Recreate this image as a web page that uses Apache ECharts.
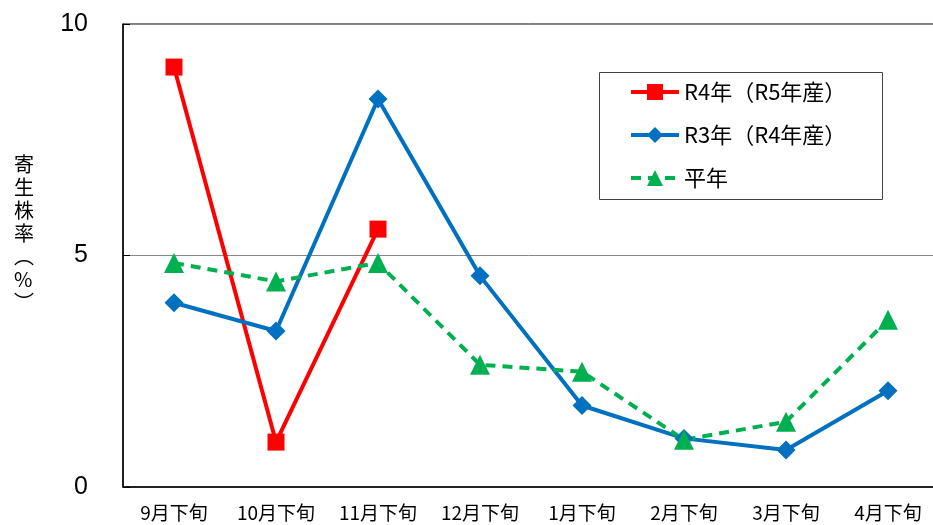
<!DOCTYPE html>
<html>
<head>
<meta charset="utf-8">
<script src="https://cdn.jsdelivr.net/npm/echarts@6/dist/echarts.min.js"></script>
<style>
html,body{margin:0;padding:0;background:#fff;}
#c{width:933px;height:525px;}
</style>
</head>
<body>
<div id="c"></div>
<script>
const categories = ['9月下旬','10月下旬','11月下旬','12月下旬','1月下旬','2月下旬','3月下旬','4月下旬'];
const seriesNames = ['R4年（R5年産）','R3年（R4年産）','平年'];
const r4Values = [9.07, 0.97, 5.57, null, null, null, null, null];
const r3Values = [3.98, 3.37, 8.38, 4.56, 1.76, 1.05, 0.80, 2.08];
const avgValues = [4.84, 4.44, 4.84, 2.64, 2.49, 1.02, 1.41, 3.61];
const yTicks = {min: 0, max: 10, interval: 5};
const yAxisTitle = '寄\n生\n株\n率\n︵\n%\n︶';

const FONT = '"Noto Sans CJK JP", "Noto Sans", sans-serif';
const chart = echarts.init(document.getElementById('c'), null, {renderer: 'canvas'});
chart.setOption({
  animation: false,
  backgroundColor: '#fff',
  grid: {left: 123, top: 24, width: 816, bottom: 38, show: true, borderColor: '#000', borderWidth: 1, outerBoundsMode: 'none'},
  xAxis: {
    type: 'category', data: categories, boundaryGap: true,
    axisLine: {lineStyle: {color: '#000', width: 1.5}},
    axisTick: {show: false},
    axisLabel: {color: '#000', fontSize: 19, fontFamily: FONT, margin: 16, interval: 0}
  },
  yAxis: {
    type: 'value', min: yTicks.min, max: yTicks.max, interval: yTicks.interval,
    axisLine: {show: true, lineStyle: {color: '#000', width: 1.5}},
    axisTick: {show: true, inside: true, length: 7, lineStyle: {color: '#000'}},
    axisLabel: {color: '#000', fontSize: 25, fontFamily: '"Liberation Sans", Arial, sans-serif', margin: 35},
    splitLine: {show: true, lineStyle: {color: '#888', width: 1}}
  },
  graphic: [
    {type: 'text', left: 14, top: 153, style: {text: yAxisTitle, fontSize: 20, lineHeight: 23, fill: '#000', fontFamily: FONT, align: 'center'}},
    {type: 'rect', shape: {x: 599.5, y: 72.5, width: 283, height: 127}, style: {fill: 'rgba(0,0,0,0)', stroke: '#404040', lineWidth: 1}, z: 100}
  ],
  legend: {
    orient: 'vertical', left: 629, top: 81, itemGap: 21, itemWidth: 48, itemHeight: 20,
    padding: 0,
    lineStyle: {width: 4},
    textStyle: {color: '#000', fontSize: 22, fontFamily: FONT},
    data: seriesNames
  },
  series: [
    {name: seriesNames[0], type: 'line', data: r4Values, connectNulls: false,
     symbol: 'rect', symbolSize: 17, itemStyle: {color: '#FF0000'},
     lineStyle: {color: '#FF0000', width: 4}},
    {name: seriesNames[1], type: 'line', data: r3Values,
     symbol: 'diamond', symbolSize: 19, itemStyle: {color: '#0070C0'},
     lineStyle: {color: '#0070C0', width: 4}},
    {name: seriesNames[2], type: 'line', data: avgValues,
     symbol: 'triangle', symbolSize: 20, itemStyle: {color: '#00B050'},
     lineStyle: {color: '#00B050', width: 4, type: [10, 7]}}
  ]
});
</script>
</body>
</html>
